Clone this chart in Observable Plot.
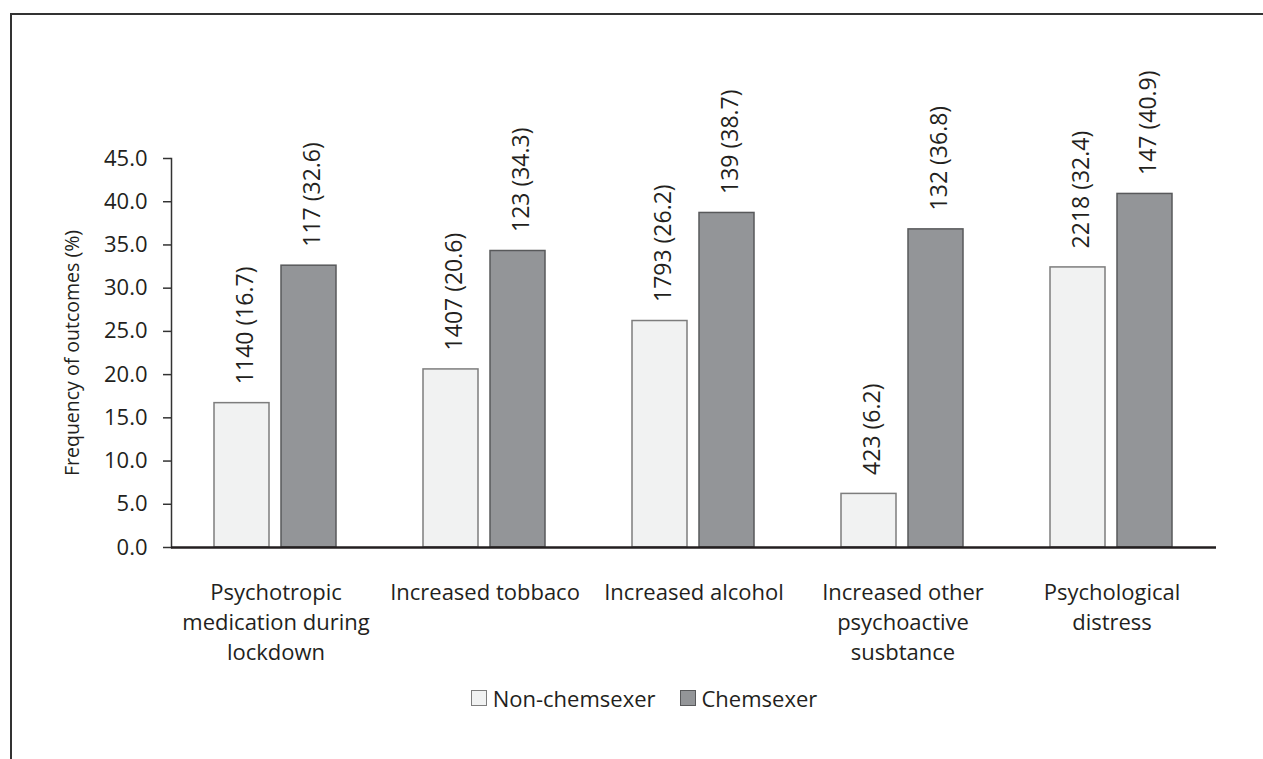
<!DOCTYPE html>
<html>
<head>
<meta charset="utf-8">
<script src="https://cdn.jsdelivr.net/npm/d3@7"></script>
<script src="https://cdn.jsdelivr.net/npm/@observablehq/plot@0.6"></script>
<style>
  html, body { margin: 0; padding: 0; background: #fff; }
  body { width: 1263px; height: 759px; position: relative; overflow: hidden; font-family: "Open Sans", sans-serif; color: #231f20; }
  #frameTop { position: absolute; left: 10px; top: 13px; width: 1253px; height: 2px; background: #333; }
  #frameLeft { position: absolute; left: 10px; top: 13px; width: 2px; height: 746px; background: #333; }
  #chart { position: absolute; left: 0; top: 0; }
  #legend { position: absolute; left: 0; width: 1263px; top: 683px; display: flex; justify-content: center; gap: 24px; font-size: 22px; line-height: 30px; padding-left: 25px; box-sizing: border-box; }
  .item { display: flex; align-items: center; gap: 6px; }
  .sw { width: 16px; height: 16px; box-sizing: border-box; }
</style>
</head>
<body>
<div id="frameTop"></div>
<div id="frameLeft"></div>
<div id="chart"></div>
<div id="legend"></div>
<script>
const categories = [
  "Psychotropic medication during lockdown",
  "Increased tobbaco",
  "Increased alcohol",
  "Increased other psychoactive susbtance",
  "Psychological distress"
];
const categoryLabels = [
  "Psychotropic\nmedication during\nlockdown",
  "Increased tobbaco",
  "Increased alcohol",
  "Increased other\npsychoactive\nsusbtance",
  "Psychological\ndistress"
];
const groups = ["Non-chemsexer", "Chemsexer"];
const nonChemsexerCounts = [1140, 1407, 1793, 423, 2218];
const nonChemsexerPct = [16.7, 20.6, 26.2, 6.2, 32.4];
const chemsexerCounts = [117, 123, 139, 132, 147];
const chemsexerPct = [32.6, 34.3, 38.7, 36.8, 40.9];
const yTicks = [0, 5, 10, 15, 20, 25, 30, 35, 40, 45];

const fills = {"Non-chemsexer": "#f1f2f2", "Chemsexer": "#939598"};
const strokes = {"Non-chemsexer": "#7d7d7d", "Chemsexer": "#58595b"};

const data = [];
categories.forEach((c, i) => {
  data.push({category: c, group: groups[0], count: nonChemsexerCounts[i], pct: nonChemsexerPct[i]});
  data.push({category: c, group: groups[1], count: chemsexerCounts[i], pct: chemsexerPct[i]});
});
const labelMap = new Map(categories.map((c, i) => [c, categoryLabels[i]]));

const font = "Open Sans, sans-serif";
const chart = Plot.plot({
  width: 1263,
  height: 680,
  marginLeft: 169,
  marginRight: 45,
  marginTop: 158,
  marginBottom: 133,
  style: {fontFamily: font, fontSize: "19px", color: "#231f20", background: "transparent", overflow: "visible"},
  fx: {domain: categories, paddingInner: 0, paddingOuter: 0, label: null},
  x: {domain: groups, paddingInner: 0.176, paddingOuter: 0.632, axis: null},
  y: {domain: [0, 45], label: null},
  marks: [
    Plot.frame({anchor: "left", facet: "super", stroke: "#333", strokeWidth: 1.5}),
    Plot.axisY({ticks: yTicks, tickFormat: d => d.toFixed(1), tickSize: 8, tickPadding: 16, fontSize: 22, stroke: "#333", strokeWidth: 1.5, fill: "#231f20",
      label: "Frequency of outcomes (%)", labelAnchor: "center", labelArrow: "none", labelOffset: 106}),
    Plot.axisFx({anchor: "bottom", tickSize: 0, tickPadding: 31, tickFormat: d => labelMap.get(d), fontSize: 22, lineHeight: 1.36, fill: "#231f20", label: null}),
    Plot.barY(data, {fx: "category", x: "group", y: "pct", fill: d => fills[d.group], stroke: d => strokes[d.group], strokeWidth: 1.5}),
    Plot.text(data, {fx: "category", x: "group", y: "pct", text: d => `${d.count} (${d.pct.toFixed(1)})`, rotate: -90, textAnchor: "start", dy: -19, dx: 4, fontSize: 23, fill: "#231f20"}),
    Plot.ruleY([0], {stroke: "#231f20", strokeWidth: 2.5})
  ]
});
document.getElementById("chart").appendChild(chart);
// y axis label font size
chart.querySelectorAll("text").forEach(t => { if (t.textContent === "Frequency of outcomes (%)") t.setAttribute("font-size", "19.5"); });

const legend = document.getElementById("legend");
groups.forEach(g => {
  const item = document.createElement("div");
  item.className = "item";
  const sw = document.createElement("div");
  sw.className = "sw";
  sw.style.background = fills[g];
  sw.style.border = `1.5px solid ${strokes[g]}`;
  const t = document.createElement("span");
  t.textContent = g;
  item.appendChild(sw);
  item.appendChild(t);
  legend.appendChild(item);
});
</script>
</body>
</html>
